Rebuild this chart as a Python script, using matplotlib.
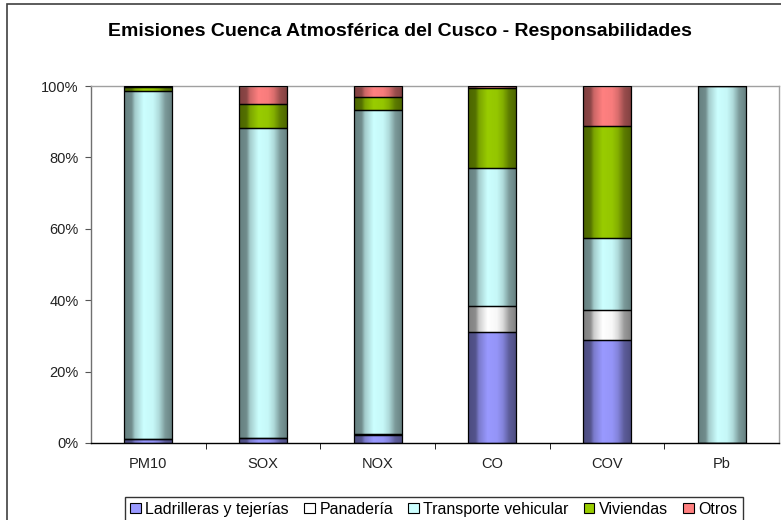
import numpy as np
import matplotlib
matplotlib.use("Agg")
import matplotlib.pyplot as plt
from matplotlib.patches import Rectangle, Patch
from matplotlib.colors import to_rgb

plt.rcParams['font.family'] = ['Liberation Sans', 'DejaVu Sans']

categories = ["PM10", "SOX", "NOX", "CO", "COV", "Pb"]
series_names = ["Ladrilleras y tejerías", "Panadería", "Transporte vehicular", "Viviendas", "Otros"]
ladrilleras = [1.0, 1.3, 2.2, 31.2, 28.9, 0.0]
panaderia = [0.0, 0.2, 0.3, 7.2, 8.4, 0.0]
transporte = [97.7, 86.6, 90.8, 38.5, 20.0, 100.0]
viviendas = [1.0, 6.9, 3.7, 22.4, 31.5, 0.0]
otros = [0.3, 5.0, 3.0, 0.7, 11.2, 0.0]
series_values = [ladrilleras, panaderia, transporte, viviendas, otros]
colors = ["#9999FF", "#FFFFFF", "#CCFFFF", "#99CC00", "#FF8080"]
yticks = [0, 20, 40, 60, 80, 100]
ytick_labels = ["0%", "20%", "40%", "60%", "80%", "100%"]

W, H = 781, 520
fig = plt.figure(figsize=(W / 100, H / 100), dpi=100)
ax = fig.add_axes([91 / W, 1 - 443 / H, (779 - 91) / W, (443 - 86) / H])

# shading profile across a bar (cylinder-like, Excel style)
t = np.linspace(0, 1, 64)
prof = np.interp(t, [0, 0.15, 0.22, 0.4, 0.6, 0.72, 0.85, 1.0],
                 [0.50, 0.55, 0.80, 1.0, 0.97, 0.85, 0.60, 0.50])

x = np.arange(len(categories))
width = 0.42
bottom = np.zeros(len(categories))
for name, vals, col in zip(series_names, series_values, colors):
    vals = np.array(vals, dtype=float)
    bars = ax.bar(x, vals, width, bottom=bottom, color=col,
                  edgecolor="black", linewidth=0.9, zorder=3)
    base = np.array(to_rgb(col))
    img = (base[None, :] * prof[:, None])[None, :, :]
    for b in bars:
        if b.get_height() <= 0:
            continue
        bx, by = b.get_x(), b.get_y()
        bw, bh = b.get_width(), b.get_height()
        im = ax.imshow(img, extent=(bx, bx + bw, by, by + bh), aspect="auto",
                       interpolation="bilinear", zorder=2.5, origin="lower")
        im.set_clip_path(b)
        b.set_facecolor("none")
    bottom += vals

ax.set_xlim(-0.5, len(categories) - 0.5)
ax.set_ylim(0, 100)
ax.set_yticks(yticks)
ax.set_yticklabels(ytick_labels, fontsize=10.5, color="#222222")
ax.set_xticks(x)
ax.set_xticklabels(categories, fontsize=10.5, color="#222222")
ax.tick_params(axis="x", length=0, pad=10)
ax.set_xticks(np.arange(0.5, len(categories) - 0.5, 1), minor=True)
ax.tick_params(axis="x", which="minor", length=4, direction="out", color="black")
ax.tick_params(axis="y", length=4, direction="out", color="#555555", pad=5)

ax.spines["top"].set_color("#a0a0a0")
ax.spines["right"].set_color("#a0a0a0")
ax.spines["left"].set_color("#707070")
ax.spines["bottom"].set_color("#000000")
for s in ax.spines.values():
    s.set_linewidth(1.0)

fig.text(400 / W, 1 - 32 / H, "Emisiones Cuenca Atmosférica del Cusco - Responsabilidades",
         ha="center", va="center", fontsize=14, fontweight="bold")

# outer frame
fig.patches.append(Rectangle((7 / W, -0.1), 1.2, 1 - 4 / H + 0.1, transform=fig.transFigure,
                             fill=False, edgecolor="#404040", linewidth=1.2))

handles = [Patch(facecolor=c, edgecolor="black", linewidth=0.8) for c in colors]
leg = fig.legend(handles, series_names, loc="upper center", ncol=5,
                 bbox_to_anchor=(434 / W, 1 - 489 / H), fontsize=11.5, frameon=True,
                 handlelength=0.65, handleheight=0.65, handletextpad=0.3,
                 columnspacing=0.95, borderpad=0.3, fancybox=False)
leg.get_frame().set_edgecolor("black")
leg.get_frame().set_linewidth(1.0)

fig.savefig("out.png", dpi=100)
